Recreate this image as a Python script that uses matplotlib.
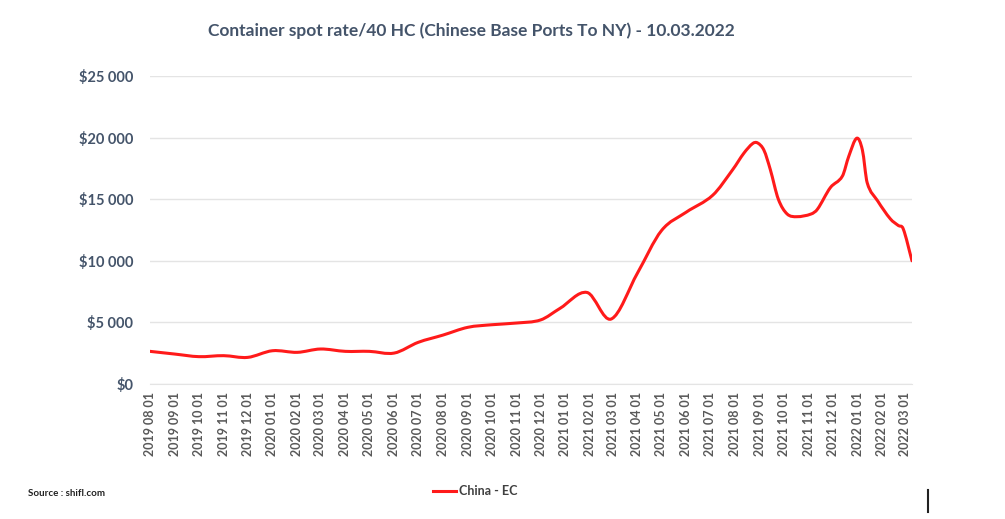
import numpy as np
import pandas as pd
import matplotlib
matplotlib.use("Agg")
import matplotlib.pyplot as plt
import matplotlib.dates as mdates
from matplotlib.path import Path
from matplotlib.patches import PathPatch
from matplotlib.lines import Line2D

# Spot rate per 40HC container, Chinese base ports -> NY
dates = [
    "2019-08-01", "2019-09-01", "2019-10-01", "2019-11-01", "2019-12-01",
    "2020-01-01", "2020-02-01", "2020-03-01", "2020-04-01", "2020-05-01",
    "2020-06-01", "2020-07-01", "2020-08-01", "2020-09-01", "2020-10-01",
    "2020-11-01", "2020-12-01", "2020-12-25", "2021-01-28", "2021-02-27",
    "2021-04-01", "2021-05-01", "2021-06-01", "2021-07-04",
    "2021-07-29", "2021-08-12", "2021-08-23", "2021-08-29", "2021-09-06",
    "2021-09-14", "2021-09-24", "2021-10-05", "2021-10-17", "2021-11-04",
    "2021-11-12", "2021-11-28", "2021-12-13", "2021-12-21", "2021-12-31",
    "2022-01-07", "2022-01-13", "2022-01-26", "2022-02-11", "2022-02-21",
    "2022-02-27", "2022-03-10",
]
rates = [
    2650, 2430, 2220, 2300, 2160,
    2700, 2570, 2840, 2650, 2650,
    2510, 3380, 3970, 4600, 4810,
    4950, 5200, 6130, 7430, 5270,
    9000, 12450, 13950, 15320,
    17400, 18740, 19520, 19570, 18980,
    17400, 15000, 13800, 13580, 13800,
    14200, 15940, 16870, 18480, 19950,
    19000, 16340, 14870, 13400, 12860,
    12600, 10000,
]
series_name = "China - EC"
title = "Container spot rate/40 HC (Chinese Base Ports To NY) - 10.03.2022"
source = "Source : shifl.com"

plt.rcParams["font.family"] = ["Lato", "DejaVu Sans"]
plt.rcParams["font.weight"] = "bold"

text_col = "#44546a"
red = "#ff1a1a"

fig = plt.figure(figsize=(10.05, 5.19), dpi=100)
ax = fig.add_axes([150 / 1005, 1 - 384 / 519, 762 / 1005, 308 / 519])

x = mdates.date2num(pd.to_datetime(dates))
y = np.array(rates, dtype=float)

# smoothed line (like Excel's "smoothed line"): cubic Bezier segments with
# finite-difference tangents, drawn by matplotlib's path renderer
slope = np.empty_like(y)
slope[1:-1] = (y[2:] - y[:-2]) / (x[2:] - x[:-2])
slope[0] = (y[1] - y[0]) / (x[1] - x[0])
slope[-1] = (y[-1] - y[-2]) / (x[-1] - x[-2])
verts = [(x[0], y[0])]
codes = [Path.MOVETO]
for i in range(len(x) - 1):
    h = (x[i + 1] - x[i]) / 3
    verts += [(x[i] + h, y[i] + slope[i] * h),
              (x[i + 1] - h, y[i + 1] - slope[i + 1] * h),
              (x[i + 1], y[i + 1])]
    codes += [Path.CURVE4] * 3
ax.add_patch(PathPatch(Path(verts, codes), facecolor="none", edgecolor=red,
                       lw=2.2, capstyle="round", joinstyle="round", zorder=3))

ax.set_xlim(x[0], x[-1])
ax.set_ylim(0, 25000)
ax.set_yticks(np.arange(0, 25001, 5000))
ax.yaxis.set_major_formatter(plt.FuncFormatter(
    lambda v, p: "$" + f"{int(v):,}".replace(",", " ")))
ax.xaxis.set_major_locator(mdates.MonthLocator())
ax.xaxis.set_major_formatter(mdates.DateFormatter("%Y %m %d"))

ax.grid(axis="y", color="#e4e4e4", lw=1)
ax.set_axisbelow(True)
for s in ax.spines.values():
    s.set_visible(False)
ax.spines["bottom"].set_visible(True)
ax.spines["bottom"].set_color("#e4e4e4")
ax.tick_params(axis="both", length=0)
ax.tick_params(axis="y", labelsize=10.5, labelcolor=text_col, pad=12)
ax.tick_params(axis="x", labelsize=9, labelcolor="#595959", pad=6)
for lab in ax.get_xticklabels():
    lab.set_rotation(90)

fig.text(471 / 1005, 1 - 31 / 519, title, ha="center", va="center",
         fontsize=12.5, fontweight="bold", color=text_col)
fig.text(28 / 1005, 1 - 494 / 519, source, ha="left", va="center",
         fontsize=7, fontweight="bold", color="#222222")

handle = Line2D([], [], color=red, lw=2.2)
fig.legend([handle], [series_name], loc="center",
           bbox_to_anchor=(475 / 1005, 1 - 491 / 519), frameon=False,
           fontsize=9, handlelength=1.9, handletextpad=0.2,
           labelcolor="#404040")

# small vertical mark at bottom right of the original image
fig.add_artist(Line2D([928 / 1005, 928 / 1005], [1 - 490 / 519, 1 - 512 / 519],
                      color="#222222", lw=1.5))

fig.savefig("out.png", dpi=100)
